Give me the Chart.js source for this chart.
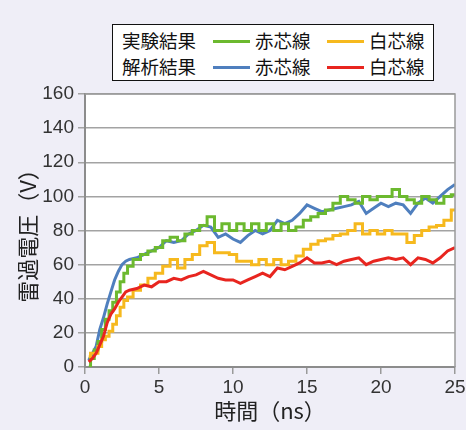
<!DOCTYPE html>
<html>
<head>
<meta charset="utf-8">
<script src="https://cdn.jsdelivr.net/npm/chart.js@4.4.1/dist/chart.umd.min.js"></script>
<style>
    html, body { margin: 0; padding: 0; background: #efeef7; }
    #wrap { position: relative; width: 466px; height: 430px; }
    #legend {
        position: absolute; left: 112px; top: 24px; width: 320px; height: 55px;
        border: 1.5px solid #111; background: #fff;
        font-family: "Noto Sans CJK JP", sans-serif; font-size: 18.5px; color: #111;
    }
    #legend span { position: absolute; line-height: 20px; }
    #legend i { position: absolute; height: 3px; width: 37px; }
</style>
</head>
<body>
<div id="wrap">
    <canvas id="chart" width="466" height="430"></canvas>
    <div id="legend"></div>
</div>
<script>
// time axis (ns)
const timeNs = [0.25, 0.5, 0.75, 1, 1.25, 1.5, 1.75, 2, 2.25, 2.5, 2.75, 3,
    3.5, 4, 4.5, 5, 5.5, 6, 6.5, 7, 7.5, 8, 8.5, 9, 9.5, 10, 10.5, 11, 11.5, 12,
    12.5, 13, 13.5, 14, 14.5, 15, 15.5, 16, 16.5, 17, 17.5, 18, 18.5, 19, 19.5, 20,
    20.5, 21, 21.5, 22, 22.5, 23, 23.5, 24, 24.5, 25];

// 実験結果 赤芯線
const expRed = [0, 5, 10, 15, 22, 28, 33, 38, 44, 50, 55, 59,
    63, 66, 68, 70, 74, 76, 74, 78, 80, 83, 88, 80, 84, 80, 84, 80, 84, 80,
    84, 80, 84, 80, 82, 86, 88, 90, 92, 96, 100, 98, 96, 100, 98, 100,
    100, 104, 100, 98, 96, 100, 98, 96, 100, 101];
// 実験結果 白芯線
const expWhite = [6, 8, 8, 12, 16, 18, 21, 25, 30, 35, 39, 41,
    45, 48, 52, 55, 59, 63, 58, 63, 66, 71, 73, 67, 67, 66, 62, 62, 60, 63,
    60, 63, 60, 62, 65, 69, 72, 74, 75, 77, 78, 80, 84, 78, 80, 78,
    80, 78, 78, 73, 77, 80, 82, 83, 86, 92];
// 解析結果 赤芯線
const simRed = [4, 8, 12, 22, 29, 37, 44, 51, 56, 60, 62, 63,
    64, 66, 68, 70, 74, 73, 74, 78, 80, 83, 82, 76, 78, 75, 73, 77, 80, 78,
    80, 86, 84, 86, 90, 95, 93, 91, 92, 93, 94, 95, 97, 90, 93, 96,
    94, 96, 95, 90, 96, 99, 96, 100, 104, 107];
// 解析結果 白芯線
const simWhite = [3, 5, 8, 13, 18, 26, 31, 34, 38, 41, 44, 45,
    46, 48, 47, 50, 50, 52, 51, 53, 54, 56, 54, 52, 51, 51, 49, 51, 53, 55,
    53, 58, 57, 59, 61, 64, 61, 61, 62, 60, 62, 63, 64, 60, 62, 63,
    64, 63, 64, 60, 64, 63, 61, 64, 68, 70];

const yTicks = [0, 20, 40, 60, 80, 100, 120, 140, 160];
const xTicks = [0, 5, 10, 15, 20, 25];

const COLORS = {
    green: '#6cb92f',
    yellow: '#f6b91e',
    blue: '#4f7fbe',
    red: '#e8251f',
};

const toPoints = (vals) => vals.map((v, i) => ({ x: timeNs[i], y: v }));

// legend built as html (two rows x two entries)
const legendRows = [
    { label: '実験結果', items: [['赤芯線', COLORS.green], ['白芯線', COLORS.yellow]] },
    { label: '解析結果', items: [['赤芯線', COLORS.blue], ['白芯線', COLORS.red]] },
];
const legendEl = document.getElementById('legend');
legendRows.forEach((row, r) => {
    const top = 5 + r * 26;
    legendEl.insertAdjacentHTML('beforeend', `<span style="left:9px;top:${top}px">${row.label}</span>`);
    row.items.forEach(([txt, col], k) => {
        const x0 = 100 + k * 114;
        legendEl.insertAdjacentHTML('beforeend',
            `<i style="left:${x0}px;top:${top + 10}px;background:${col}"></i>` +
            `<span style="left:${x0 + 42}px;top:${top}px">${txt}</span>`);
    });
});

// white plot area + frame
const plotFrame = {
    id: 'plotFrame',
    beforeDraw(chart) {
        const { ctx, chartArea: a } = chart;
        ctx.save();
        ctx.fillStyle = '#fff';
        ctx.fillRect(a.left, a.top, a.right - a.left, a.bottom - a.top);
        ctx.restore();
    },
    afterDatasetsDraw(chart) {
        const { ctx, chartArea: a } = chart;
        ctx.save();
        ctx.strokeStyle = '#9a9a9a';
        ctx.lineWidth = 1.5;
        ctx.beginPath();
        ctx.moveTo(a.left, a.top);
        ctx.lineTo(a.right, a.top);
        ctx.lineTo(a.right, a.bottom);
        ctx.stroke();
        ctx.restore();
    },
};

const tickFont = { family: '"Liberation Sans", "Noto Sans CJK JP"', size: 19 };
const titleFont = { family: '"Noto Sans CJK JP", "Liberation Sans"', size: 22 };

const line = (data, color, stepped) => ({
    data: toPoints(data),
    borderColor: color,
    borderWidth: 3,
    pointRadius: 0,
    fill: false,
    stepped: stepped,
    tension: 0,
});

new Chart(document.getElementById('chart'), {
    type: 'line',
    data: {
        datasets: [
            line(simWhite, COLORS.red, false),
            line(expWhite, COLORS.yellow, 'middle'),
            line(expRed, COLORS.green, 'middle'),
            line(simRed, COLORS.blue, false),
        ],
    },
    options: {
        responsive: false,
        animation: false,
        layout: { padding: { left: 0, right: 11, top: 94, bottom: 0 } },
        plugins: { legend: { display: false }, tooltip: { enabled: false } },
        scales: {
            x: {
                type: 'linear',
                min: 0,
                max: 25,
                afterBuildTicks: (s) => { s.ticks = xTicks.map(v => ({ value: v })); },
                afterFit: (s) => { s.height = 63; s.paddingLeft = 0; s.paddingRight = 0; },
                grid: { drawOnChartArea: false, drawTicks: true, tickLength: 7, color: '#9a9a9a', lineWidth: 1.5 },
                border: { color: '#8c8c8c', width: 2 },
                ticks: { color: '#333', font: tickFont, padding: 2, maxRotation: 0 },
                title: { display: true, text: '時間（ns）', color: '#222', font: titleFont, padding: { top: 0, bottom: 6 } },
            },
            y: {
                min: 0,
                max: 160,
                afterBuildTicks: (s) => { s.ticks = yTicks.map(v => ({ value: v })); },
                afterFit: (s) => { s.width = 85; },
                grid: { drawTicks: true, tickLength: 7, color: '#a3a3a3', lineWidth: 1.5 },
                border: { color: '#8c8c8c', width: 2 },
                ticks: { color: '#333', font: tickFont, padding: 4 },
                title: { display: true, text: '雷過電圧（V）', color: '#222', font: titleFont, padding: { top: 14, bottom: 0 } },
            },
        },
    },
    plugins: [plotFrame],
});
</script>
</body>
</html>
